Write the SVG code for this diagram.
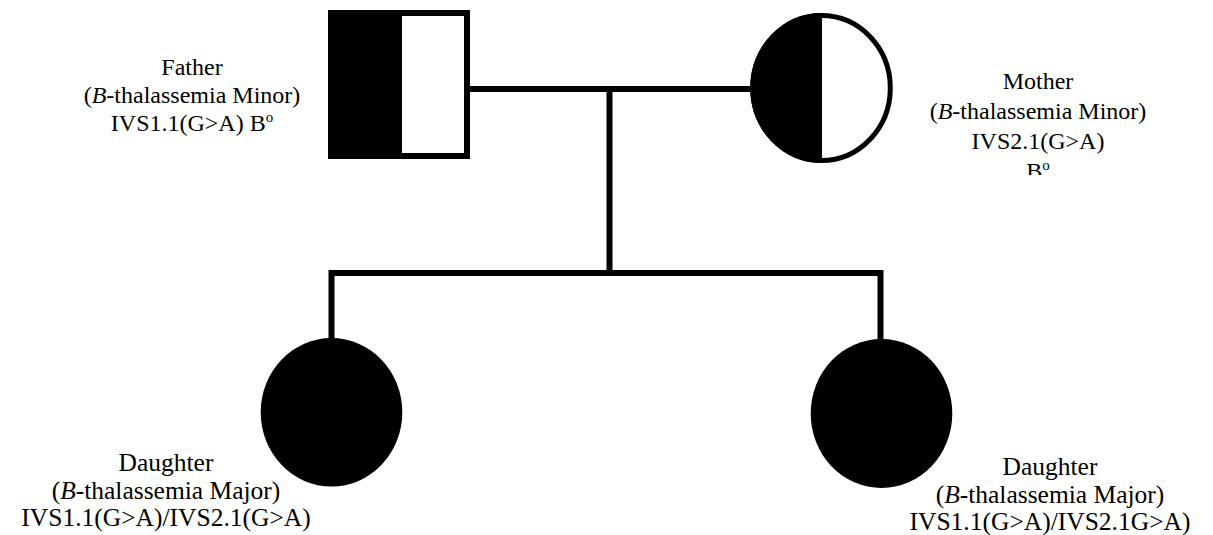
<svg xmlns="http://www.w3.org/2000/svg" width="1213" height="535" viewBox="0 0 1213 535">
<style>
text{font-family:"Liberation Serif","Times New Roman",serif;fill:#000;text-anchor:middle}
.p{font-size:24px}
.m{font-size:24px}
.d{font-size:25.5px}
.i{font-style:italic}
.ln{stroke:#000;stroke-width:6;fill:none}
.sup{font-size:15px}
</style>
<defs>
<clipPath id="mclip"><rect x="900" y="0" width="313" height="175"/></clipPath>
</defs>
<rect width="1213" height="535" fill="#fff"/>
<g id="connectors">
<line class="ln" x1="467" y1="89" x2="752" y2="89"/>
<line class="ln" x1="609.5" y1="89" x2="609.5" y2="273"/>
<polyline class="ln" points="331.5,340 331.5,273 880.5,273 880.5,341"/>
</g>
<g id="father">
<rect x="328" y="10" width="74" height="149" fill="#000"/>
<rect x="331" y="13" width="136" height="143" fill="none" stroke="#000" stroke-width="6"/>
<text class="p" x="192" y="75">Father</text>
<text class="p" x="192" y="103">(<tspan class="i">B</tspan>-thalassemia Minor)</text>
<text class="p" x="192" y="131">IVS1.1(G&gt;A) B<tspan class="sup" dy="-9">o</tspan></text>
</g>
<g id="mother">
<path d="M821.5,13 A71.3,75 0 0 0 821.5,163 Z" fill="#000"/>
<ellipse cx="821.5" cy="88" rx="68.8" ry="72.5" fill="none" stroke="#000" stroke-width="5"/>
<line x1="821.5" y1="14" x2="821.5" y2="162" stroke="#000" stroke-width="1"/>
<text class="m" x="1038" y="89">Mother</text>
<text class="m" x="1038" y="119">(<tspan class="i">B</tspan>-thalassemia Minor)</text>
<text class="m" x="1038" y="149">IVS2.1(G&gt;A)</text>
<g clip-path="url(#mclip)"><text class="m" x="1038" y="179">B<tspan class="sup" dy="-9">o</tspan></text></g>
</g>
<g id="daughter1">
<ellipse cx="331.5" cy="412.3" rx="70.8" ry="74.3" fill="#000"/>
<text class="d" x="166" y="471">Daughter</text>
<text class="d" x="166" y="498.5">(<tspan class="i">B</tspan>-thalassemia Major)</text>
<text class="d" x="166" y="526">IVS1.1(G&gt;A)/IVS2.1(G&gt;A)</text>
</g>
<g id="daughter2">
<ellipse cx="881.5" cy="413.5" rx="70.8" ry="74.5" fill="#000"/>
<text class="d" x="1050" y="475">Daughter</text>
<text class="d" x="1050" y="502.5">(<tspan class="i">B</tspan>-thalassemia Major)</text>
<text class="d" x="1050" y="530">IVS1.1(G&gt;A)/IVS2.1G&gt;A)</text>
</g>
</svg>
